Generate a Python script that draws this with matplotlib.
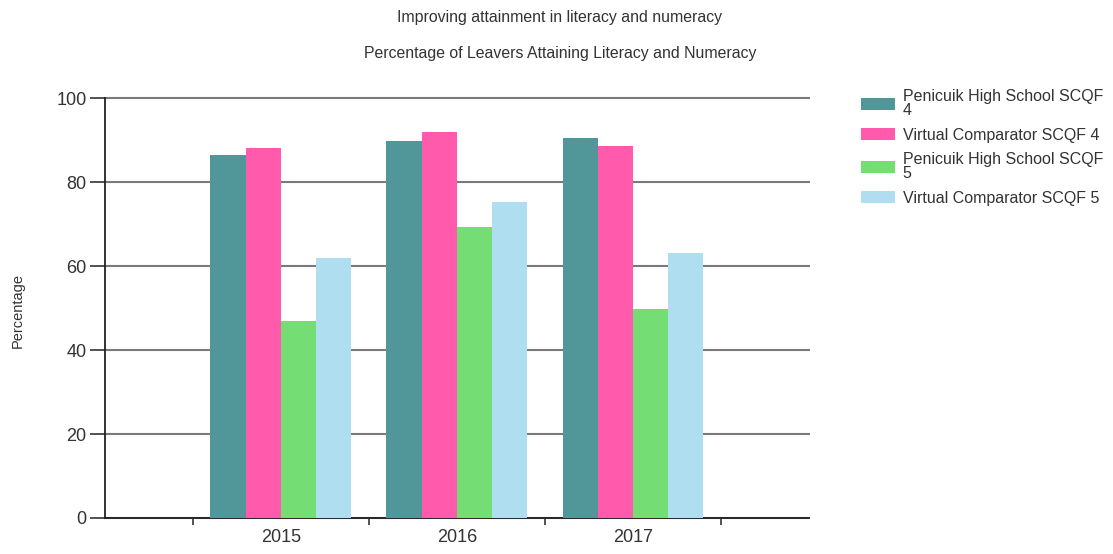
import numpy as np
import matplotlib
matplotlib.use("Agg")
import matplotlib.pyplot as plt

# data
years = ["2015", "2016", "2017"]
series_names = [
    "Penicuik High School SCQF\n4",
    "Virtual Comparator SCQF 4",
    "Penicuik High School SCQF\n5",
    "Virtual Comparator SCQF 5",
]
phs_scqf4 = [86.4, 89.8, 90.4]
vc_scqf4 = [88.0, 91.8, 88.7]
phs_scqf5 = [47.0, 69.4, 49.8]
vc_scqf5 = [61.8, 75.3, 63.2]
colors = ["#519699", "#FF5AAB", "#74DD74", "#B0DEF1"]

plt.rcParams['font.family'] = ['Liberation Sans', 'DejaVu Sans']

fig = plt.figure(figsize=(11.13, 5.54), dpi=100)
ax = fig.add_axes([0.094, 0.065, 0.633, 0.758])

x = np.arange(1, len(years) + 1)
width = 0.2
all_vals = [phs_scqf4, vc_scqf4, phs_scqf5, vc_scqf5]
for i, (vals, name, col) in enumerate(zip(all_vals, series_names, colors)):
    ax.bar(x + (i - 1.5) * width, vals, width, color=col, label=name, zorder=3)

ax.set_xlim(0, 4)
ax.set_ylim(0, 100)
ax.set_yticks(np.arange(0, 101, 20))
ax.yaxis.grid(True, color="#7a7a7a", linewidth=1.5, zorder=0)
ax.set_axisbelow(True)
for gl in ax.get_ygridlines():
    gl.set_clip_on(False)

# category boundaries get the tick marks, year labels sit in between
ax.set_xticks([0.5, 1.5, 2.5, 3.5])
ax.set_xticklabels([])
ax.set_xticks(x, minor=True)
ax.set_xticklabels(years, minor=True, fontsize=13, color="#333333")
ax.tick_params(axis="x", which="major", length=5, width=1.2, color="#333333")
ax.tick_params(axis="x", which="minor", length=0, pad=8)
ax.tick_params(axis="y", length=11, width=1.2, color="#333333", labelsize=13,
               labelcolor="#333333", pad=2)

for side in ["top", "right"]:
    ax.spines[side].set_visible(False)
for side in ["left", "bottom"]:
    ax.spines[side].set_color("#222222")
    ax.spines[side].set_linewidth(1.3)

fig.text(0.503, 0.969, "Improving attainment in literacy and numeracy",
         ha="center", va="center", fontsize=11.4, color="#333333")
fig.text(0.503, 0.903, "Percentage of Leavers Attaining Literacy and Numeracy",
         ha="center", va="center", fontsize=11.4, color="#333333")
fig.text(0.016, 0.44, "Percentage", rotation=90, ha="center", va="center",
         fontsize=10.5, color="#333333")

leg = fig.legend(loc="upper left", bbox_to_anchor=(0.768, 0.85), frameon=False,
                 fontsize=11.5, handlelength=2.1, handleheight=0.8,
                 labelspacing=0.6, handletextpad=0.5, borderaxespad=0)
for t in leg.get_texts():
    t.set_color("#333333")
    t.set_linespacing(0.9)

fig.savefig("out.png", dpi=100)
